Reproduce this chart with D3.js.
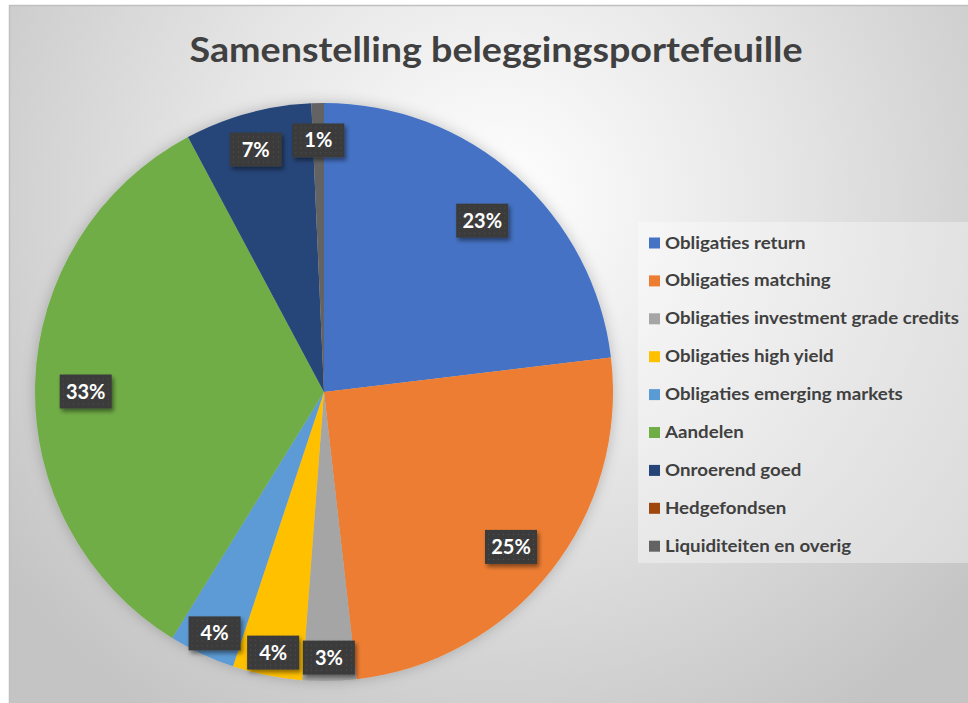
<!DOCTYPE html>
<html>
<head>
<meta charset="utf-8">
<script src="https://cdn.jsdelivr.net/npm/d3@7"></script>
<style>
  html, body { margin: 0; padding: 0; background: #ffffff; }
  svg { display: block; }
</style>
</head>
<body>
<svg id="chart" width="968" height="703"></svg>
<script>
const title = "Samenstelling beleggingsportefeuille";
const categories = [
  "Obligaties return",
  "Obligaties matching",
  "Obligaties investment grade credits",
  "Obligaties high yield",
  "Obligaties emerging markets",
  "Aandelen",
  "Onroerend goed",
  "Hedgefondsen",
  "Liquiditeiten en overig"
];
const values = [23.1, 25.1, 3.0, 3.9, 3.7, 33.4, 7.1, 0, 0.7];
const colors = ["#4472C4", "#ED7D31", "#A5A5A5", "#FFC000", "#5B9BD5", "#70AD47", "#264478", "#9E480E", "#636363"];

const W = 968, H = 703;
const svg = d3.select("#chart");
const defs = svg.append("defs");

// background gradient
const bg = defs.append("radialGradient").attr("id", "bgGrad")
  .attr("gradientUnits", "userSpaceOnUse")
  .attr("cx", 500).attr("cy", 200).attr("r", 620);
bg.append("stop").attr("offset", "0%").attr("stop-color", "#ffffff");
bg.append("stop").attr("offset", "45%").attr("stop-color", "#e6e6e6");
bg.append("stop").attr("offset", "100%").attr("stop-color", "#c4c4c4");

// label box pattern
const pat = defs.append("pattern").attr("id", "dots")
  .attr("width", 5).attr("height", 5).attr("patternUnits", "userSpaceOnUse");
pat.append("rect").attr("width", 5).attr("height", 5).attr("fill", "#3a3a3a");
pat.append("rect").attr("x", 2).attr("y", 2).attr("width", 1).attr("height", 1).attr("fill", "#555555");

// shadows
const sh = defs.append("filter").attr("id", "lblShadow")
  .attr("x", "-30%").attr("y", "-30%").attr("width", "160%").attr("height", "180%");
sh.append("feDropShadow").attr("dx", 2).attr("dy", 3).attr("stdDeviation", 2)
  .attr("flood-color", "#000").attr("flood-opacity", 0.45);

const pieSh = defs.append("filter").attr("id", "pieShadow")
  .attr("x", "-20%").attr("y", "-20%").attr("width", "140%").attr("height", "140%");
pieSh.append("feDropShadow").attr("dx", 0).attr("dy", 0).attr("stdDeviation", 7)
  .attr("flood-color", "#000").attr("flood-opacity", 0.22);

// frame / background
svg.append("rect").attr("x", 9).attr("y", 5).attr("width", W).attr("height", H)
  .attr("fill", "url(#bgGrad)");
svg.append("path")
  .attr("d", `M9.5,${H} V5.5 H${W}`)
  .attr("fill", "none").attr("stroke", "#c0c0c0").attr("stroke-width", 1.5);

// title
const tt = svg.append("text")
  .attr("x", 496).attr("y", 62)
  .attr("text-anchor", "middle")
  .attr("font-family", "Lato, 'Open Sans', sans-serif")
  .attr("font-weight", "bold")
  .attr("font-size", 35)
  .attr("fill", "#404040")
  .text(title);
const tLen = tt.node().getComputedTextLength();
if (Math.abs(tLen - 613) > 4) tt.attr("textLength", 613).attr("lengthAdjust", "spacingAndGlyphs");

// pie
const cx = 324, cy = 392, R = 289;
const pie = d3.pie().sort(null).value(d => d.value).startAngle(0).endAngle(2 * Math.PI);
const data = categories.map((c, i) => ({ name: c, value: values[i], color: colors[i] }));
const arcs = pie(data);
const total = d3.sum(values);
const arc = d3.arc().innerRadius(0).outerRadius(R);

const g = svg.append("g").attr("transform", `translate(${cx},${cy})`);
const slices = g.append("g").attr("filter", "url(#pieShadow)");
slices.selectAll("path").data(arcs).join("path")
  .attr("d", arc)
  .attr("fill", d => d.data.color);

// labels
const lblG = g.append("g").attr("transform", "translate(0,7)");
arcs.filter(d => d.data.value > 0).forEach(d => {
  const pct = d.data.value / total * 100;
  const mid = (d.startAngle + d.endAngle) / 2;
  const rr = pct >= 10 ? R * 0.825 : R * 0.895;
  const x = Math.sin(mid) * rr, y = -Math.cos(mid) * rr;
  const lg = lblG.append("g").attr("transform", `translate(${x},${y})`);
  lg.append("rect").attr("x", -26).attr("y", -17).attr("width", 52).attr("height", 34)
    .attr("fill", "url(#dots)").attr("filter", "url(#lblShadow)");
  lg.append("text")
    .attr("text-anchor", "middle").attr("y", 7)
    .attr("font-family", "Lato, 'Open Sans', sans-serif")
    .attr("font-weight", "bold").attr("font-size", 20)
    .attr("fill", "#ffffff")
    .text(Math.round(pct) + "%");
});

// legend
const legX = 638, legY = 222;
svg.append("rect").attr("x", legX).attr("y", legY).attr("width", W - legX).attr("height", 341)
  .attr("fill", "#ffffff").attr("fill-opacity", 0.35);
const leg = svg.append("g");
const rowH = 37.9;
const items = leg.selectAll("g").data(data).join("g")
  .attr("transform", (d, i) => `translate(${legX + 11},${legY + 15.5 + i * rowH})`);
items.append("rect").attr("width", 11).attr("height", 11).attr("fill", d => d.color);
const texts = items.append("text")
  .attr("x", 16).attr("y", 11)
  .attr("font-family", "Lato, 'Open Sans', sans-serif")
  .attr("font-weight", "bold").attr("font-size", 17)
  .attr("fill", "#404040")
  .text(d => d.name);
let maxLen = 0;
texts.each(function () { maxLen = Math.max(maxLen, this.getComputedTextLength()); });
const k = 294 / maxLen;
if (Math.abs(k - 1) > 0.02) {
  texts.each(function () {
    d3.select(this).attr("textLength", this.getComputedTextLength() * k).attr("lengthAdjust", "spacingAndGlyphs");
  });
}
</script>
</body>
</html>
